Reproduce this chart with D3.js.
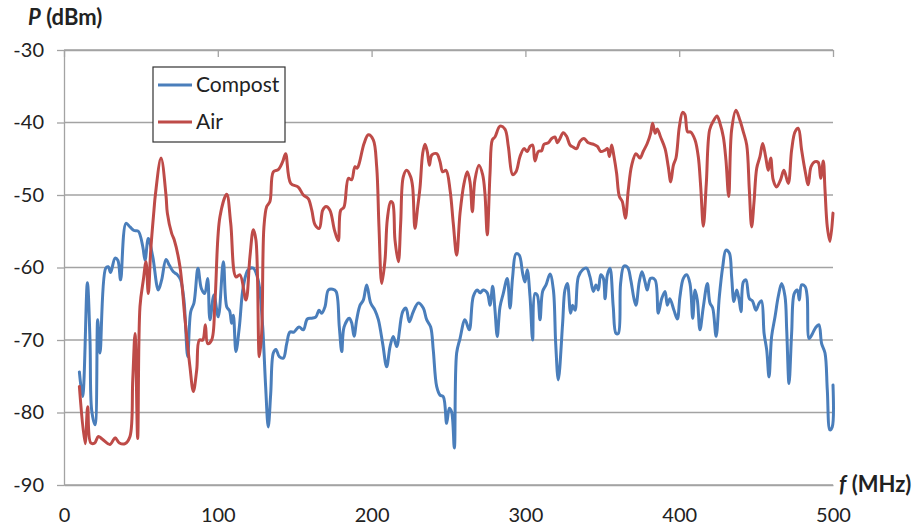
<!DOCTYPE html>
<html>
<head>
<meta charset="utf-8">
<script src="https://cdn.jsdelivr.net/npm/d3@7/dist/d3.min.js"></script>
<style>
  html, body { margin: 0; padding: 0; background: #fff; }
  svg { display: block; font-family: Lato, "Open Sans", sans-serif; }
</style>
</head>
<body>
<svg id="chart" width="919" height="527"></svg>
<script>
// Received power vs. frequency, compost vs. air
const seriesNames = ["Compost", "Air"];

const compostFreq = [10,12.1,15.2,16.9,18,20.2,21.9,23.4,27.1,28.8,30.3,33.2,35,36.8,40.3,42.9,45.5,48.3,51.2,52.7,54.8,57.7,61.3,63.5,66.3,68.5,71.1,73.7,75.8,78,80.4,82.4,84.5,87.1,89.3,91.5,93.4,94.9,97.5,100.3,103.6,105.8,107.7,109,110.1,111.8,114,116.6,119.8,123.1,125.7,127,129.2,131.1,132.8,134.4,136.1,137.8,140,142.6,144.8,146.9,149.5,152.8,155.6,158.2,161,163.8,165.8,167.5,169.7,171.9,174.7,176.9,179,180.6,182.1,185.5,187,188.6,190.3,192.5,194.6,196.8,199.4,202.2,204.4,207.2,209.8,212,214.1,216.3,220.2,222.4,224.5,227.1,230.4,233.6,235.8,238.4,240.1,242.3,244.5,246.6,248.8,250.5,252,253.8,255.3,257.5,260.7,263.5,266.1,268.7,270.5,272.6,275.2,277,278.7,280.2,281.7,283.5,285.6,288.2,290,291.7,293.9,296,298.2,299.7,301.2,303,304.7,306.2,307.7,309.5,311.2,313.4,316,318.2,319.7,321.4,324.2,325.7,327.3,329.4,330.7,332.3,334.4,337.3,339.8,342,344.2,345.9,347.4,349,350.7,351.8,353.3,355,357.1,358.9,360.4,361.9,364.1,366.5,368.5,370.6,371.9,374,375.8,377.8,379.2,381.4,384.3,386.4,388.6,390.8,392.3,393.9,396.6,398.8,400.5,402.7,404.9,407,408.8,410.3,411.8,413.5,415.7,418.3,420,421.8,424,426.1,428.3,430.4,432.6,434.1,435.6,437.4,439,440.2,441.7,443.4,445.6,447.6,449.9,452,453.5,455.2,456.9,458.4,460.1,462.3,464.4,466.6,468.8,469.9,471.4,473.1,474.8,476.8,478.1,479.6,481.8,483.2,484.5,486.7,488.7,490.8,492.6,494.8,496.3,498,499.5,500];
const compostP = [-74.4,-77.8,-62.1,-70,-79.7,-81.7,-67.2,-71.8,-60.1,-59.9,-60.7,-58.7,-59,-61.7,-53.9,-54.4,-54.9,-55,-57.1,-59,-56,-58.5,-63.1,-61.7,-58.9,-59.7,-60.6,-61,-61.7,-64.5,-72.3,-66.1,-64.9,-60.1,-62.9,-63.6,-61.5,-67.2,-63.8,-66.8,-59.2,-65.4,-66,-67.7,-66.6,-71.6,-68.2,-62.6,-60.3,-60.1,-61.3,-62.6,-68.2,-76.4,-82,-77.4,-71.8,-71.3,-72.3,-72.5,-70.5,-68.9,-68.9,-68.2,-68.6,-67.1,-67,-66.8,-65.9,-66.3,-65.4,-63.1,-63,-63.3,-68.2,-71.6,-68.2,-67,-67.6,-69.5,-67.2,-65.2,-64.5,-62.4,-64.9,-65.9,-67.2,-70.5,-73.7,-70.9,-69.5,-70.9,-66.1,-65.6,-67.5,-66.1,-64.9,-65.6,-67.2,-68.2,-71.4,-76.4,-77.6,-77.8,-81.5,-79.4,-79.9,-84.9,-71.8,-69.8,-67.2,-68.6,-64,-63.1,-63.5,-63.1,-63.5,-65.2,-62.6,-65.8,-69.5,-65.4,-63.6,-61.5,-65.6,-61.3,-58.1,-58.3,-60.8,-62,-60.3,-64,-70,-63.6,-63.8,-67.2,-63.3,-62.4,-60.9,-63.1,-70.5,-75.5,-67.7,-63.1,-62.2,-66.3,-65.2,-65.9,-61.3,-60.3,-60.1,-61.3,-63.3,-62.4,-63.1,-61,-61.5,-64.3,-61,-60.1,-65.4,-69.1,-69.1,-62.2,-59.8,-60,-61.7,-64.3,-65.2,-62,-60.6,-62,-63.1,-61.5,-61.7,-66.3,-64.3,-63.3,-65.2,-64.3,-65.9,-67.1,-64,-61.5,-61,-62.2,-67,-63.1,-64.5,-68.6,-65.4,-62.2,-64.9,-65.6,-69.5,-64,-59.9,-57.6,-58,-61.3,-64.7,-63.1,-64.5,-66.1,-62,-61.7,-64.3,-64.6,-65.9,-64.9,-64.6,-69.1,-71.4,-75.1,-69.5,-66.8,-64,-62.2,-64,-68.6,-76,-69.1,-63.6,-63.1,-64.5,-62.4,-62.6,-64,-69.8,-69.1,-68.3,-67.9,-70.5,-71.8,-76.9,-82.4,-82,-76.2];

const airFreq = [10,13.7,15.4,17.4,20,22.3,25,29.9,33.2,36,39.7,42.9,44.7,46.2,47.9,49.4,51.6,53.3,54.8,56.4,58.5,59.4,63.1,66.3,67.2,70,71.7,75.4,78.7,81.9,84.1,86.3,88,90.2,91.9,93.4,96,98.2,101.4,105.8,108.4,111.8,114.4,118.3,120.9,123.1,124.8,127,128.5,130,131.8,133.9,136.1,139.3,142.2,144.1,147.4,152.3,155.6,158.8,161.1,163.2,166,168.2,170.4,172.9,175.8,178.3,179.9,182,184.9,187,189.2,190.7,192,195.1,197.9,201.1,203.3,204.8,206.6,208.7,210.2,212.4,213.7,215.2,217.4,218.9,220.6,222.8,225.4,226.7,228.2,230,231.5,233.2,234.7,236.2,237.6,239.1,242.3,244.5,246.2,248.4,251,253.1,255.3,257.5,260.1,262.2,264,265.5,267.2,269.8,272.2,273.7,275.2,277,278.5,280.2,283.5,286.7,288.9,291.7,293.9,296.5,299.1,301.2,303,304.7,306.2,308.4,310.5,312.1,314.9,317.1,319.2,320.8,322.5,324.6,326.8,329,331.1,333.3,335.5,338.1,340.9,344.2,346.8,349,351.8,353.3,354.6,356.1,357.6,359.3,361.1,363,365,366.9,369.1,371.9,374.5,376.6,379.2,381.4,382.7,384.4,385.7,387.9,390.8,392.9,394.5,396.2,397.9,400.1,402.2,403.7,405.5,407.4,410.3,412.4,414,415.7,417.6,419.8,422.2,424.6,426.5,428.7,430.4,432.2,434.1,436.9,439.5,441.7,443.9,445.6,447.1,448.6,450.4,452.5,454.3,456.2,457.9,459.5,461.1,463.3,465.9,468.1,470.9,473.1,475.3,477.4,479.6,481.8,483.9,485.7,488.3,490.4,492,493.7,494.8,496.3,498,500];
const airP = [-76.4,-84.3,-79.2,-84.2,-84.2,-83.3,-83.7,-84.4,-83.5,-84.2,-84.3,-83.3,-75.5,-69.1,-83.6,-65.4,-61.7,-59.2,-63.6,-57.6,-52.1,-50,-44.9,-50,-52.5,-55.3,-56.2,-59.9,-67.2,-73.7,-77.1,-74.1,-70,-70,-67.9,-70.5,-70,-64.5,-53,-49.9,-53.9,-61.3,-61,-64.5,-58.5,-54.8,-56.2,-72.3,-69.1,-54.4,-51.6,-50.9,-46.8,-46.5,-45.4,-44.3,-48.4,-48.9,-50,-50.5,-52.1,-54.1,-54.6,-52.1,-51.6,-52.1,-54.8,-56.3,-52.1,-51.7,-47.7,-47.9,-46.1,-46.3,-45.6,-42.9,-41.7,-42.4,-46.1,-54.4,-62.2,-59,-53.4,-50.9,-51.1,-56.2,-59.2,-53.9,-47.5,-46.6,-47.5,-48.9,-54.6,-51.6,-48.9,-44.3,-43,-44,-45.9,-44.5,-44.3,-45.4,-46.8,-46.6,-49.3,-53.9,-58.3,-52.5,-48.4,-46.8,-48.2,-52.3,-47.9,-45.9,-47.2,-49.8,-55.5,-47,-42.4,-42,-40.5,-40.9,-43.3,-47.2,-46.8,-44.7,-43.6,-44,-43.3,-43.1,-45.3,-44,-43.9,-43,-42.8,-42.2,-42,-42.8,-42.2,-41.4,-41.9,-43.1,-43.4,-43.6,-42.6,-42.2,-42.8,-43,-43.3,-44,-43.8,-43.6,-44.7,-43.1,-44.7,-47,-50.2,-50.9,-53.2,-49.3,-45.9,-44.3,-44.9,-44,-42.9,-41.5,-40.1,-41.5,-40.9,-42,-43.6,-46.1,-48.2,-45.9,-44.9,-40.6,-38.6,-38.9,-41.3,-41.3,-42.4,-44.7,-48.9,-54.3,-48.5,-41,-39.8,-39.1,-40.1,-42,-45.2,-50.2,-41,-38.3,-39.7,-41.3,-43.1,-49.3,-54.4,-51.1,-46.3,-44.7,-42.9,-44.7,-46.6,-44.9,-47.9,-48.9,-47.9,-46.6,-48.4,-43.8,-41.3,-40.8,-43.8,-46.6,-48.6,-46.1,-45.4,-45.5,-47.7,-45.3,-49.3,-54.4,-56.4,-52.5];

const xTicks = [0, 100, 200, 300, 400, 500];
const yTicks = [-90, -80, -70, -60, -50, -40, -30];

const colors = ["#4A7EBB", "#BE4B48"];
const textColor = "#222";
const gridColor = "#a3a3a3";
const labelFont = "Lato, sans-serif";

const svg = d3.select("#chart");
const plotLeft = 64, plotRight = 833, plotTop = 50, plotBottom = 485;

const x = d3.scaleLinear().domain([0, 500]).range([plotLeft, plotRight]);
const y = d3.scaleLinear().domain([-90, -30]).range([plotBottom, plotTop]);

// plain hyphen for negative numbers
const plainNumber = d => String(d);

// horizontal gridlines
svg.append("g")
  .selectAll("line")
  .data(yTicks)
  .join("line")
  .attr("x1", plotLeft).attr("x2", plotRight)
  .attr("y1", d => y(d)).attr("y2", d => y(d))
  .attr("stroke", gridColor).attr("stroke-width", 1.3);

// tick marks hanging from the top edge
const topAxis = svg.append("g")
  .attr("transform", `translate(0,${plotTop})`)
  .call(d3.axisBottom(x).tickValues(xTicks).tickSize(7).tickSizeOuter(0).tickFormat(""));
topAxis.selectAll("path,line").attr("stroke", gridColor).attr("stroke-width", 1.3);

// frequency labels along the bottom
const bottomAxis = svg.append("g")
  .attr("transform", `translate(0,${plotBottom})`)
  .call(d3.axisBottom(x).tickValues(xTicks).tickSize(0).tickSizeOuter(0)
    .tickPadding(23).tickFormat(plainNumber));
bottomAxis.selectAll("path").attr("stroke", gridColor).attr("stroke-width", 1.3);
bottomAxis.selectAll("text")
  .attr("fill", textColor).attr("font-size", 20).attr("font-family", labelFont);

// power axis
const yAxis = svg.append("g")
  .attr("transform", `translate(${plotLeft},0)`)
  .call(d3.axisLeft(y).tickValues(yTicks).tickSize(7).tickSizeOuter(0)
    .tickPadding(13).tickFormat(plainNumber));
yAxis.selectAll("path,line").attr("stroke", gridColor).attr("stroke-width", 1.3);
yAxis.selectAll("text")
  .attr("fill", textColor).attr("font-size", 20).attr("font-family", labelFont);

// series
const line = d3.line()
  .x(d => x(d[0]))
  .y(d => y(d[1]))
  .curve(d3.curveCatmullRom.alpha(0.5));

const series = [
  d3.zip(compostFreq, compostP),
  d3.zip(airFreq, airP)
];

svg.append("g")
  .selectAll("path")
  .data(series)
  .join("path")
  .attr("d", line)
  .attr("fill", "none")
  .attr("stroke", (d, i) => colors[i])
  .attr("stroke-width", 3)
  .attr("stroke-linejoin", "round")
  .attr("stroke-linecap", "round");

// axis titles
const yTitle = svg.append("text")
  .attr("x", 28).attr("y", 25)
  .attr("font-size", 22).attr("font-weight", "bold").attr("fill", textColor)
  .attr("font-family", labelFont);
yTitle.append("tspan").attr("font-style", "italic").text("P");
yTitle.append("tspan").text(" (dBm)");

const xTitle = svg.append("text")
  .attr("x", 839).attr("y", 492)
  .attr("font-size", 22).attr("font-weight", "bold").attr("fill", textColor)
  .attr("font-family", labelFont);
xTitle.append("tspan").attr("font-style", "italic").text("f");
xTitle.append("tspan").text(" (MHz)");

// legend
const legend = svg.append("g");
legend.append("rect")
  .attr("x", 153).attr("y", 67).attr("width", 132).attr("height", 75)
  .attr("fill", "#fff").attr("stroke", "#333").attr("stroke-width", 1.2);
const legendY = [85, 122];
seriesNames.forEach((name, i) => {
  legend.append("line")
    .attr("x1", 158).attr("x2", 192)
    .attr("y1", legendY[i]).attr("y2", legendY[i])
    .attr("stroke", colors[i]).attr("stroke-width", 3);
  legend.append("text")
    .attr("x", 196).attr("y", legendY[i] + 7)
    .attr("font-size", 21).attr("fill", textColor)
    .attr("font-family", labelFont)
    .text(name);
});
</script>
</body>
</html>
